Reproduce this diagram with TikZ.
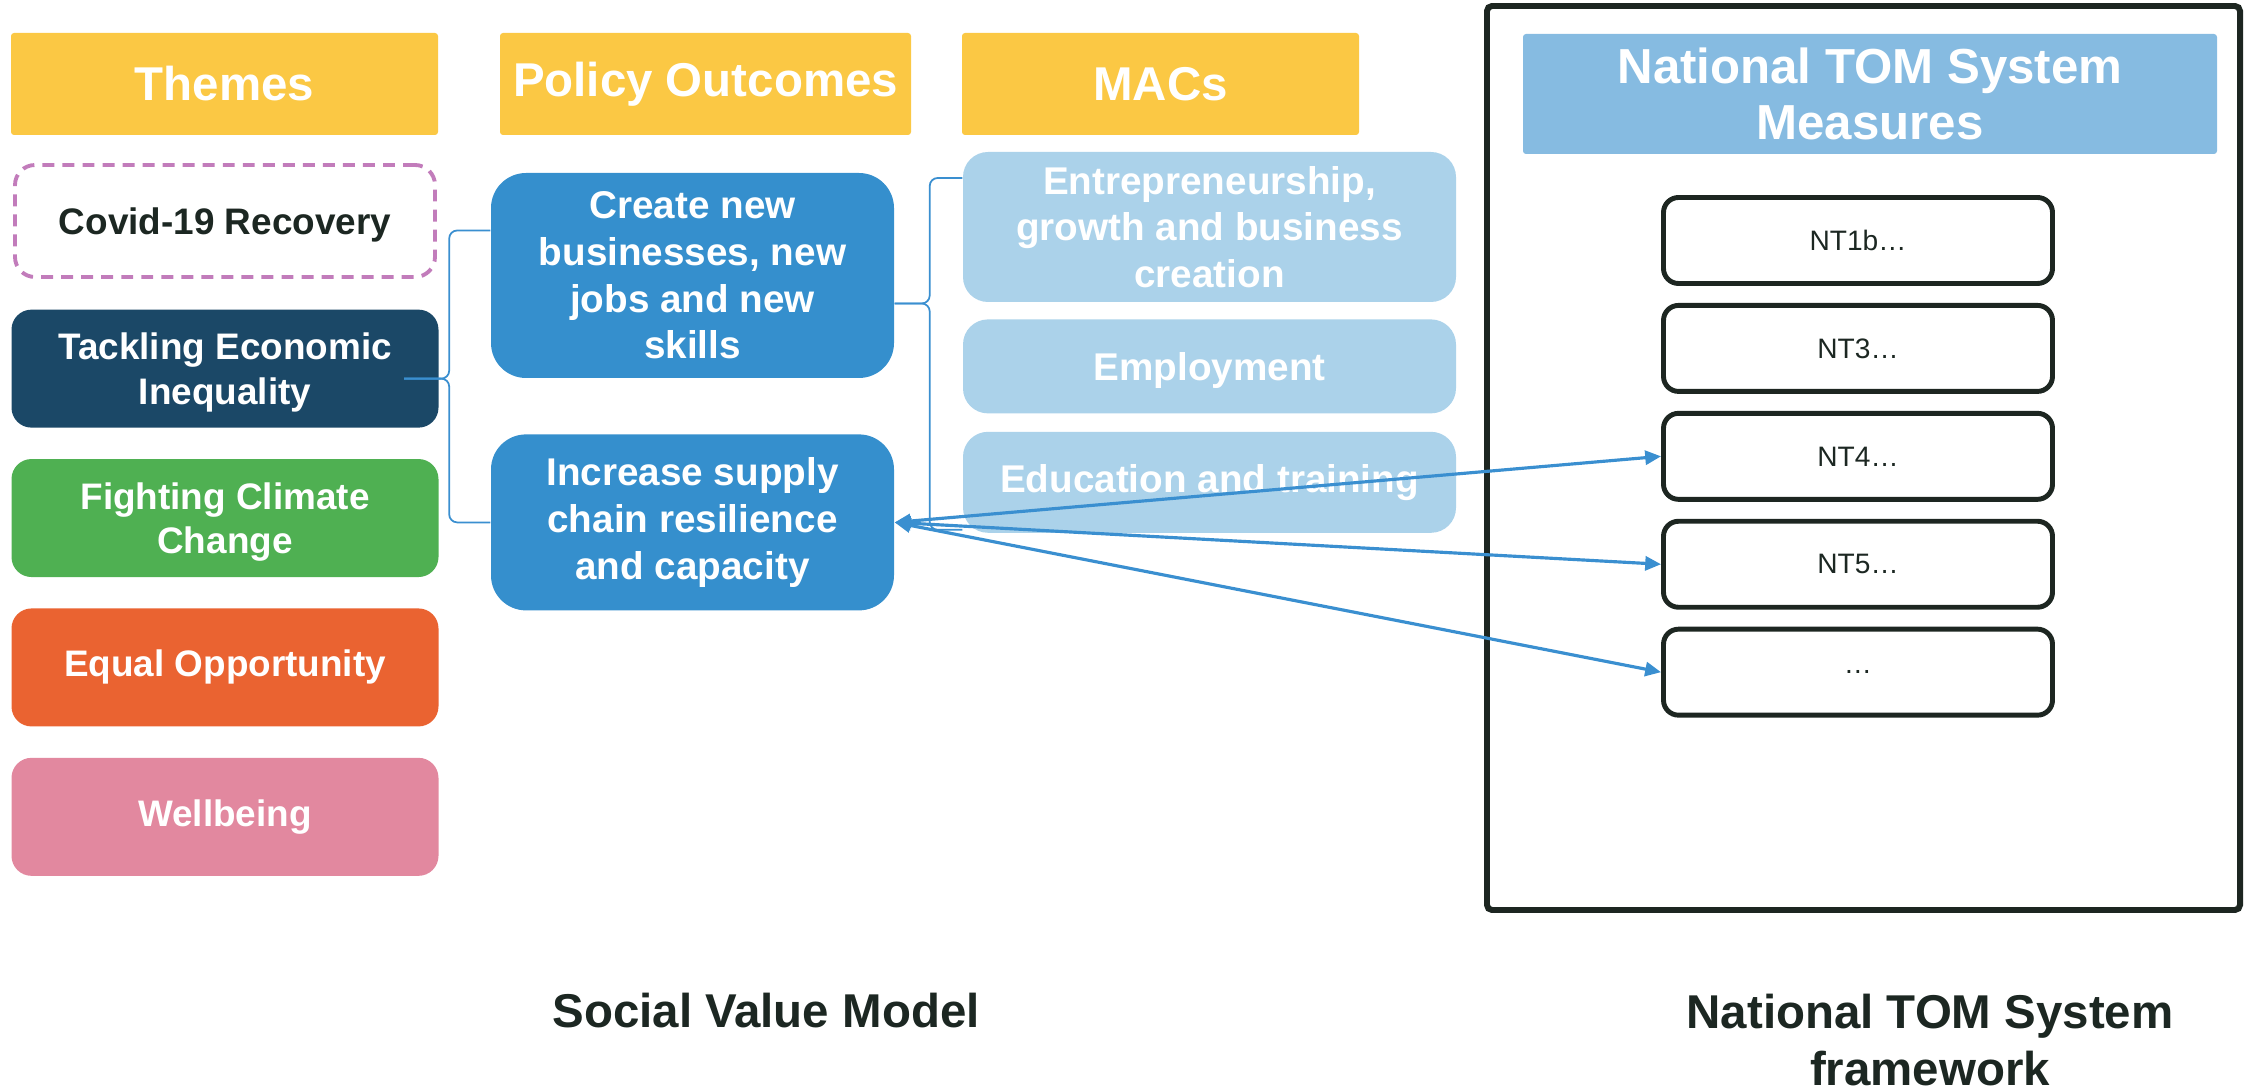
\documentclass[tikz,border=0pt]{standalone}
\usepackage{fontspec}
\setmainfont{Liberation Sans}
\usetikzlibrary{positioning}
\usetikzlibrary{arrows.meta}

\definecolor{headyellow}{HTML}{FBC844}
\definecolor{covidpink}{HTML}{C27CBB}
\definecolor{darktext}{HTML}{1C2722}
\definecolor{navy}{HTML}{1B4867}
\definecolor{climategreen}{HTML}{4FB052}
\definecolor{oppsorange}{HTML}{EA6331}
\definecolor{wellpink}{HTML}{E2889F}
\definecolor{outblue}{HTML}{358FCD}
\definecolor{macblue}{HTML}{ABD2EA}
\definecolor{tomblue}{HTML}{86BBE1}
\definecolor{framedark}{HTML}{1D2621}
\definecolor{linkblue}{HTML}{3A8FD0}

\begin{document}
\begin{tikzpicture}[x=0.1mm,y=-0.1mm,
    header/.style={fill=headyellow,text=white,rounded corners=0.3mm,minimum height=10.2mm,font=\fontsize{13.5}{16}\selectfont\bfseries},
    theme/.style={rounded corners=2mm,minimum width=42.7mm,minimum height=11.8mm,text=white,align=center,font=\fontsize{10.5}{12.6}\selectfont\bfseries},
    outcome/.style={fill=outblue,rounded corners=3.5mm,minimum width=40.3mm,text=white,align=center,font=\fontsize{11}{13.3}\selectfont\bfseries},
    mac/.style={fill=macblue,rounded corners=2.5mm,minimum width=49.3mm,inner sep=1pt,text=white,align=center,font=\fontsize{11}{13.3}\selectfont\bfseries},
    measure/.style={draw=framedark,line width=1.4pt,rounded corners=1.5mm,minimum width=38.9mm,minimum height=8.6mm,text=darktext,font=\fontsize{8}{9.6}\selectfont},
    bracket/.style={draw=linkblue,line width=0.5pt,rounded corners=0.8mm},
    link/.style={draw=linkblue,line width=0.9pt,{Triangle[length=4.5pt,width=4pt]}-{Triangle[length=4.5pt,width=4pt]}},
  ]
    \useasboundingbox (0,0) rectangle (2257,1088);

    % column headings
    \node[header,minimum width=42.7mm] (hthemes) at (224.5,84) {Themes};
    \node[header,minimum width=41.1mm] (houtcomes) at (705.5,84) {Policy Outcomes};
    \node[header,minimum width=39.7mm] (hmacs) at (1160.5,84) {MACs};

    \node[theme,draw=covidpink,dash pattern=on 3.4pt off 2.3pt,line width=1.1pt,minimum width=42mm,minimum height=11.2mm,text depth=0pt,text=darktext] (covid) at (225,221) {Covid-19 Recovery};
    \node[theme,fill=navy,text depth=0pt] (tackle) [below=3mm of covid] {Tackling Economic\\Inequality};
    \node[theme,fill=climategreen,text depth=0pt] (climate) [below=3mm of tackle] {Fighting Climate\\Change};
    \node[theme,fill=oppsorange] (equal) [below=3mm of climate] {Equal Opportunity};
    \node[theme,fill=wellpink] (wellbeing) [below=3mm of equal] {Wellbeing};

    \node[outcome,minimum height=20.5mm] (create) at (692.5,275.5) {Create new\\businesses, new\\jobs and new\\skills};
    \node[outcome,minimum height=17.6mm] (supply) [below=5.5mm of create] {Increase supply\\chain resilience\\and capacity};

    \node[mac,minimum height=15mm] (entre) at (1209.5,227) {Entrepreneurship,\\growth and business\\creation};
    \node[mac,minimum height=9.4mm,text depth=0pt] (employ) [below=1.6mm of entre] {Employment};
    \node[mac,minimum height=10.1mm] (educ) [below=1.7mm of employ] {Education and training};

    % TOM side
    \draw[framedark,line width=1.7pt,rounded corners=0.5mm] (1487,6) rectangle (2240,910);
    \node[fill=tomblue,rounded corners=0.3mm,minimum width=69.4mm,minimum height=12mm,text=white,align=center,font=\fontsize{14}{16}\selectfont\bfseries] (tomhead) at (1870,94) {National TOM System\\Measures};
    \node[measure] (nt1) at (1858,240.5) {NT1b…};
    \node[measure] (nt3) [below=1.7mm of nt1] {NT3…};
    \node[measure] (nt4) [below=1.7mm of nt3] {NT4…};
    \node[measure] (nt5) [below=1.7mm of nt4] {NT5…};
    \node[measure] (ntmore) [below=1.7mm of nt5] {…};

    \coordinate (tipA) at ([xshift=-3.5mm,yshift=-1mm]tackle.east);
    \coordinate (tipB) at ([yshift=-2.8mm]create.east);
    \draw[bracket] ([yshift=4.5mm]create.west) -| ([xshift=4.5mm]tipA) -- (tipA);
    \draw[bracket] (supply.west) -| ([xshift=4.5mm]tipA) -- (tipA);
    \draw[bracket] ([yshift=4.9mm]entre.west) -| ([xshift=3.5mm]tipB) -- (tipB);
    \draw[bracket] ([yshift=-4.75mm]educ.west) -| ([xshift=3.5mm]tipB) -- (tipB);

    \draw[link] (supply.east) -- (nt4.west);
    \draw[link] (supply.east) -- (nt5.west);
    \draw[link] (supply.east) -- (ntmore.west);

    \node[anchor=base,text=darktext,font=\fontsize{13.5}{16.2}\selectfont\bfseries] (svm) at (766,1028) {Social Value Model};
    \node[anchor=north,inner sep=0pt,align=center,text=darktext,font=\fontsize{13.5}{16.2}\selectfont\bfseries] (tomfw) at (1930,993) {National TOM System\\framework};
  \end{tikzpicture}
\end{document}
